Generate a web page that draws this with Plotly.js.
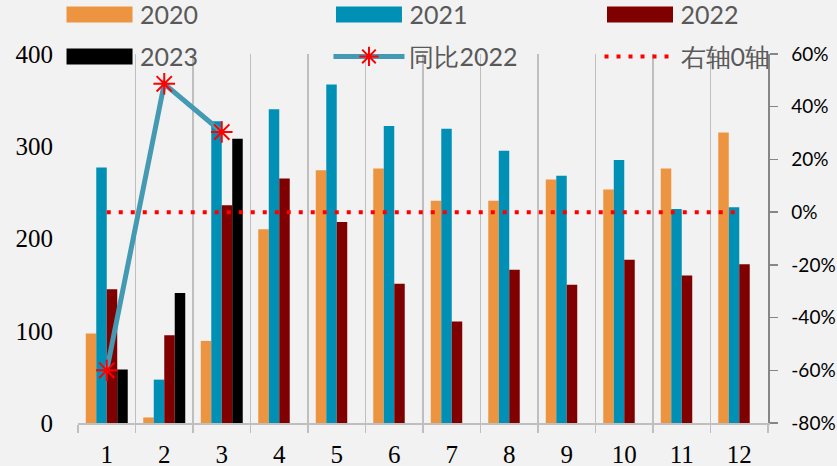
<!DOCTYPE html>
<html>
<head>
<meta charset="utf-8">
<script src="https://cdn.plot.ly/plotly-3.0.1.min.js"></script>
<style>
html,body{margin:0;padding:0;background:#F2F2F2;}
#chart{width:837px;height:466px;}
</style>
</head>
<body>
<div id="chart"></div>
<script>
// ---- data ----
const months = ['1','2','3','4','5','6','7','8','9','10','11','12'];
const v2020 = [97, 6, 89, 210, 274, 276, 241, 241, 264, 253, 276, 315];
const v2021 = [277, 47, 327, 340, 367, 322, 319, 295, 268, 285, 232, 234];
const v2022 = [145, 95, 236, 265, 218, 151, 110, 166, 150, 177, 160, 172];
const v2023 = [58, 141, 308, null, null, null, null, null, null, null, null, null];
const yoy2022 = [-0.60, 0.487, 0.304, null, null, null, null, null, null, null, null, null];
const zeroLine = [0, 0, 0, 0, 0, 0, 0, 0, 0, 0, 0, 0];
const rightTickVals = [-0.8, -0.6, -0.4, -0.2, 0, 0.2, 0.4, 0.6];
const rightTickText = ['-80%', '-60%', '-40%', '-20%', '0%', '20%', '40%', '60%'];
const leftTickVals = [0, 100, 200, 300, 400];

const names = ['2020', '2021', '2022', '2023', '同比2022', '右轴0轴'];
const colors = ['#ED9440', '#0090B6', '#800000', '#000000'];
const legendOf = ['legend', 'legend2', 'legend3', 'legend', 'legend2', 'legend3'];

const barSeries = [v2020, v2021, v2022, v2023];
const traces = barSeries.map((vals, i) => ({
  type: 'bar', x: months, y: vals, name: names[i],
  legend: legendOf[i], legendgroup: 'g' + i,
  marker: {color: colors[i], line: {width: 0}}
}));
traces.push({
  type: 'scatter', mode: 'lines+markers', x: months, y: yoy2022, name: names[4],
  legend: legendOf[4], legendgroup: 'g4',
  yaxis: 'y2', connectgaps: false,
  line: {color: '#4499B3', width: 5},
  marker: {symbol: 'asterisk-open', size: 18, color: '#FF0000', line: {color: '#FF0000', width: 2}}
});
traces.push({
  type: 'scatter', mode: 'lines', x: months, y: zeroLine, name: names[5],
  legend: legendOf[5], legendgroup: 'g5',
  yaxis: 'y2',
  line: {color: '#FF0000', width: 4, dash: '4px,8px'}
});

const serif = '"Liberation Serif", "Times New Roman", serif';
const sans = 'Lato, "Liberation Sans", sans-serif';

function legendAt(xfrac) {
  return {
    orientation: 'v', xref: 'paper', yref: 'paper',
    x: xfrac, xanchor: 'left', y: 1.1689, yanchor: 'top',
    itemwidth: 71, tracegroupgap: 6.5,
    font: {family: sans, size: 25, color: '#595959'},
    bgcolor: 'rgba(0,0,0,0)', borderwidth: 0, traceorder: 'grouped'
  };
}

const layout = {
  width: 837, height: 466, autosize: false,
  paper_bgcolor: '#F2F2F2', plot_bgcolor: '#F2F2F2',
  margin: {l: 78, r: 69, t: 53.5, b: 42.5, pad: 0, autoexpand: false},
  barmode: 'group', bargap: 0.27, bargroupgap: 0,
  showlegend: true,
  legend: legendAt(-0.0275),
  legend2: legendAt(0.363),
  legend3: legendAt(0.7558),
  xaxis: {
    type: 'category', tickson: 'boundaries', range: [-0.5, 11.5], autorange: false,
    showgrid: true, gridcolor: '#BFBFBF', gridwidth: 1.5,
    showline: true, linecolor: '#BFBFBF', linewidth: 1.5,
    ticks: 'outside', ticklen: 8, tickcolor: '#BFBFBF', tickwidth: 1.5,
    ticklabelstandoff: 8,
    tickfont: {family: serif, size: 25, color: '#000000'},
    zeroline: false
  },
  yaxis: {
    range: [0, 400], tickvals: leftTickVals,
    showgrid: false, zeroline: false, showline: false, ticks: '',
    ticklabelstandoff: 24,
    tickfont: {family: serif, size: 25, color: '#000000'}
  },
  yaxis2: {
    overlaying: 'y', side: 'right', range: [-0.8, 0.6],
    tickvals: rightTickVals, ticktext: rightTickText,
    showgrid: false, zeroline: false,
    showline: true, linecolor: '#868686', linewidth: 1.5,
    ticks: 'outside', ticklen: 8, tickcolor: '#868686', tickwidth: 1.5,
    ticklabelstandoff: 10,
    tickfont: {family: sans, size: 19, color: '#000000'}
  }
};

const gd = document.getElementById('chart');
Plotly.newPlot(gd, traces, layout, {displayModeBar: false, staticPlot: true}).then(() => {
  // widen bar legend swatches to the wide rectangles of the original
  gd.querySelectorAll('.legendpoints path').forEach(p => {
    const d = p.getAttribute('d') || '';
    if (d.indexOf('M6,6H-6V-6H6Z') === 0) {
      p.setAttribute('d', 'M33,8H-33V-8H33Z');
    }
  });
});
</script>
</body>
</html>
